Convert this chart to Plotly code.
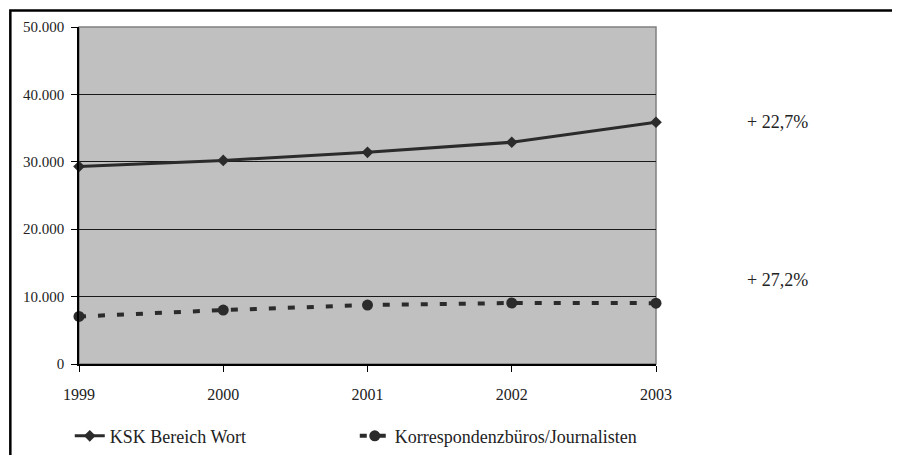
import plotly.graph_objects as go

years = [1999, 2000, 2001, 2002, 2003]
ksk_wort = [29300, 30200, 31400, 32900, 35870]
korrespondenz = [7050, 8000, 8750, 9050, 9030]
growth_labels = ["+ 22,7%", "+ 27,2%"]
growth_y = [35900, 12450]

FONT = "Liberation Serif, Times New Roman, serif"

fig = go.Figure()

fig.add_trace(go.Scatter(
    x=years, y=ksk_wort, name="KSK Bereich Wort", mode="lines+markers",
    line=dict(color="#2b2b2b", width=3),
    marker=dict(symbol="diamond", size=9, color="#2b2b2b"),
    cliponaxis=False))

fig.add_trace(go.Scatter(
    x=years, y=korrespondenz, name="Korrespondenzbüros/Journalisten", mode="lines+markers",
    line=dict(color="#2b2b2b", width=4, dash="7px,12px"),
    marker=dict(symbol="circle", size=11, color="#2b2b2b"),
    cliponaxis=False))

for txt, yv in zip(growth_labels, growth_y):
    fig.add_annotation(x=1.154, xref="paper", y=yv, yref="y", text=txt,
                       showarrow=False, xanchor="left",
                       font=dict(family=FONT, size=18, color="#222"))

# grey frame round the plot area
fig.add_shape(type="rect", xref="x domain", yref="y domain", x0=0, x1=1, y0=0, y1=1,
              line=dict(color="#808080", width=1.5), layer="below")
# outer chart border (runs off the page at right and bottom)
fig.add_shape(type="rect", xref="paper", yref="paper", x0=-0.119, x1=1.5, y0=-0.4, y1=1.049,
              line=dict(color="black", width=2.5))

fig.update_xaxes(range=[1999, 2003], tickvals=years, ticktext=[str(y) for y in years],
                 showgrid=False, showline=True, linecolor="black", linewidth=1.5,
                 ticks="outside", ticklen=6, tickcolor="black", zeroline=False,
                 ticklabelstandoff=9,
                 automargin=False, tickfont=dict(family=FONT, size=16, color="#222"))
fig.update_yaxes(range=[0, 50000], dtick=10000, tickformat=",d",
                 showgrid=True, gridcolor="#1a1a1a", gridwidth=1,
                 showline=True, linecolor="black", linewidth=1.5, zeroline=False,
                 ticks="outside", ticklen=6, tickcolor="black",
                 ticklabelstandoff=4,
                 automargin=False, tickfont=dict(family=FONT, size=15, color="#222"))

# the page body adds an 8px offset, so the margins are trimmed by that much
fig.update_layout(
    width=900, height=455,
    margin=dict(l=71, r=252, t=19, b=99, autoexpand=False),
    plot_bgcolor="#c0c0c0", paper_bgcolor="white",
    separators=",.",
    font=dict(family=FONT, size=15, color="#222"),
    showlegend=True,
    legend=dict(orientation="h", x=-0.016, xanchor="left", y=-0.159, yanchor="top",
                entrywidth=240, font=dict(family=FONT, size=18, color="#222"),
                bgcolor="rgba(0,0,0,0)"),
)

fig.write_html("out.html")
